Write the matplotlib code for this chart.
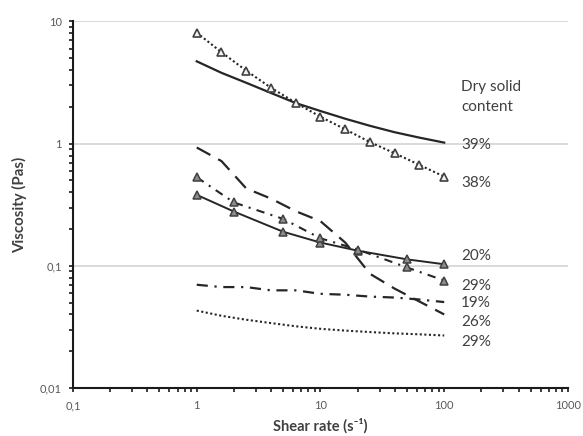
import matplotlib
matplotlib.use("Agg")
import matplotlib.pyplot as plt
from matplotlib.ticker import LogLocator, FuncFormatter, NullFormatter

plt.rcParams['font.family'] = ['Lato', 'DejaVu Sans']

# shear rate grids
x_fine = [1, 1.585, 2.512, 3.981, 6.310, 10, 15.85, 25.12, 39.81, 63.10, 100]
x_tri = [1, 2, 5, 10, 20, 50, 100]

# series (viscosity, Pas)
v39 = [4.72, 3.8, 3.15, 2.6, 2.15, 1.85, 1.6, 1.40, 1.24, 1.12, 1.02]
v38 = [8.1, 5.6, 3.96, 2.87, 2.16, 1.66, 1.31, 1.03, 0.834, 0.67, 0.537]
v26 = [0.93, 0.72, 0.43, 0.355, 0.28, 0.232, 0.155, 0.086, 0.065, 0.051, 0.040]
v19 = [0.070, 0.067, 0.067, 0.063, 0.063, 0.059, 0.058, 0.056, 0.055, 0.053, 0.0505]
v29b = [0.043, 0.039, 0.0362, 0.034, 0.032, 0.0305, 0.0295, 0.0287, 0.028, 0.0275, 0.0269]
v20 = [0.381, 0.278, 0.19, 0.155, 0.133, 0.113, 0.103]
v29a = [0.531, 0.33, 0.242, 0.168, 0.136, 0.097, 0.0758]

label_texts = ["39%", "38%", "20%", "29%", "19%", "26%", "29%"]
label_y = [0.975, 0.48, 0.121, 0.068, 0.0495, 0.035, 0.0237]

fig = plt.figure(figsize=(5.83, 4.36), dpi=100)
ax = fig.add_axes([0.1252, 0.1101, 0.849, 0.8406])

lc = '#262626'
ax.plot(x_fine, v39, color=lc, lw=1.6, zorder=3)
ax.plot(x_fine, v38, color=lc, lw=1.5, linestyle=(0, (1, 1.2)), marker='^',
        markersize=6, markerfacecolor='#f2f2f2', markeredgecolor='#404040',
        markeredgewidth=1.2, zorder=4)
ax.plot(x_fine, v26, color=lc, lw=1.6, linestyle=(0, (7, 4)), zorder=3)
ax.plot(x_fine, v19, color=lc, lw=1.6, linestyle=(0, (5, 3, 1, 3)), zorder=3)
ax.plot(x_fine, v29b, color=lc, lw=1.5, linestyle=(0, (1, 1.2)), zorder=3)
ax.plot(x_tri, v20, color=lc, lw=1.4, marker='^', markersize=6,
        markerfacecolor='#8c8c8c', markeredgecolor='#404040',
        markeredgewidth=1.1, zorder=4)
ax.plot(x_tri, v29a, color=lc, lw=1.5, linestyle=(0, (4, 3, 1, 3)), marker='^',
        markersize=6, markerfacecolor='#8c8c8c', markeredgecolor='#404040',
        markeredgewidth=1.1, zorder=4)

ax.set_xscale('log')
ax.set_yscale('log')
ax.set_xlim(0.1, 1000)
ax.set_ylim(0.01, 10)

ax.yaxis.grid(True, which='major', color='#d0d0d0', lw=1.1)
ax.set_axisbelow(True)

for s in ['top', 'right']:
    ax.spines[s].set_visible(False)
for s in ['left', 'bottom']:
    ax.spines[s].set_color('#1a1a1a')
    ax.spines[s].set_linewidth(1.5)

fmt = FuncFormatter(lambda v, p: ('%g' % v).replace('.', ','))
ax.xaxis.set_major_formatter(fmt)
ax.yaxis.set_major_formatter(fmt)
ax.xaxis.set_minor_formatter(NullFormatter())
ax.yaxis.set_minor_formatter(NullFormatter())
ax.xaxis.set_major_locator(LogLocator(base=10, numticks=10))
ax.yaxis.set_major_locator(LogLocator(base=10, numticks=10))
ax.xaxis.set_minor_locator(LogLocator(base=10, subs=range(2, 10), numticks=20))
ax.yaxis.set_minor_locator(LogLocator(base=10, subs=range(2, 10), numticks=20))
ax.tick_params(which='both', direction='out', length=3, width=1.2, color='#1a1a1a',
               labelsize=8, labelcolor='#595959')
ax.tick_params(axis='x', which='major', pad=6)
ax.tick_params(axis='y', which='major', pad=5)

ax.set_xlabel('Shear rate (s\u207b\u00b9)', fontsize=10.5, fontweight='bold',
              color='#404040', labelpad=5)
ax.set_ylabel('Viscosity (Pas)', fontsize=10.8, fontweight='bold', color='#404040', labelpad=9)

ax.text(137, 2.92, 'Dry solid', fontsize=11, color='#404040', ha='left', va='center')
ax.text(137, 1.98, 'content', fontsize=11, color='#404040', ha='left', va='center')
for t, yv in zip(label_texts, label_y):
    ax.text(137, yv, t, fontsize=11, color='#404040', ha='left', va='center')

fig.savefig('out.png', dpi=100)
